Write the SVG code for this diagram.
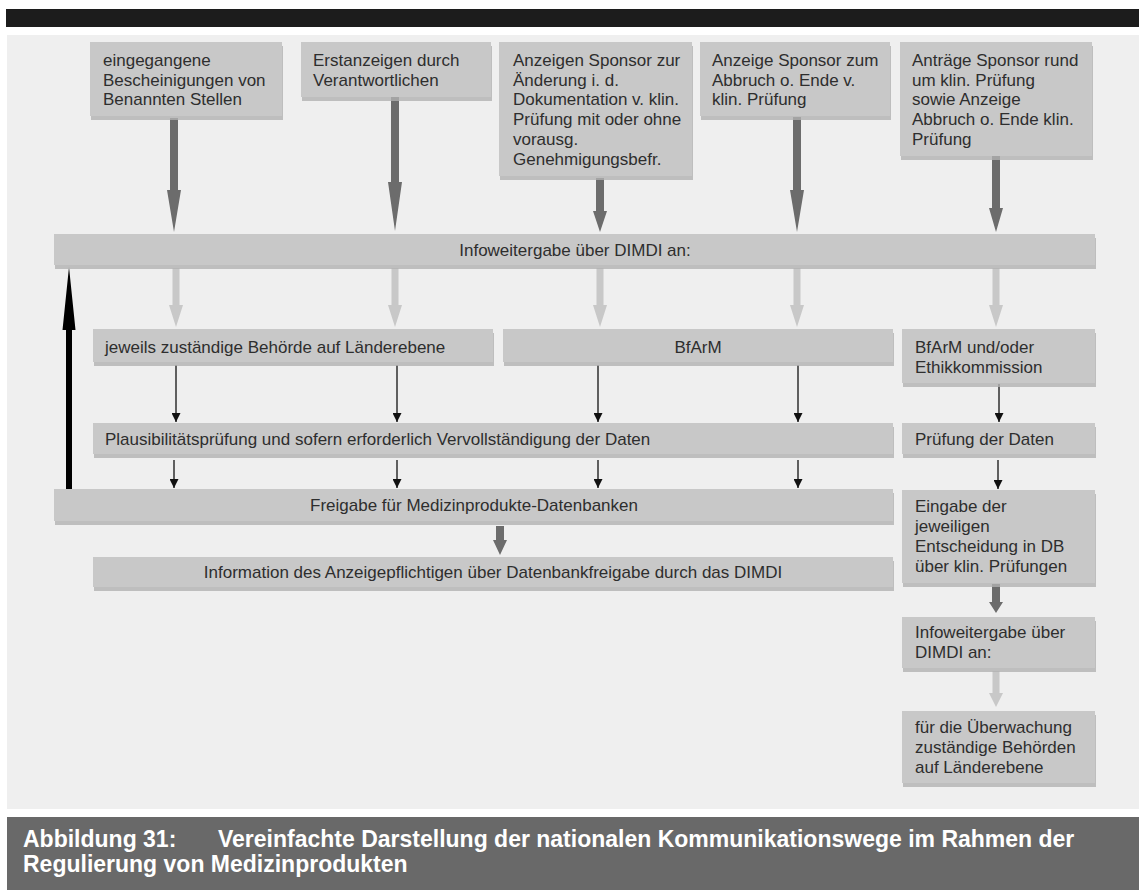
<svg xmlns="http://www.w3.org/2000/svg" xmlns:xlink="http://www.w3.org/1999/xlink" width="1139" height="890" viewBox="0 0 1139 890">
<style>
  .box { fill: #c8c8c8; }
  .shadow { fill: #b2b2b2; opacity: 0.8; }
  .t { font-family: "Liberation Sans", Arial, sans-serif; font-size: 17px; fill: #2e2e2e; }
  .c { text-anchor: middle; }
  .cap { font-family: "Liberation Sans", Arial, sans-serif; font-size: 23px; font-weight: bold; fill: #ffffff; }
  .dark { fill: #6c6c6c; }
  .light { fill: #c8c8c8; }
  .thin { stroke: #111111; stroke-width: 1.3; fill: none; marker-end: url(#tip); }
</style>
<defs>
  <marker id="tip" markerUnits="userSpaceOnUse" markerWidth="9" markerHeight="9" refX="9" refY="4.5" orient="auto">
    <path d="M0,0 L9,4.5 L0,9 z" fill="#111111"/>
  </marker>
  <polygon id="lightArrow" points="-3.5,268 3.5,268 3.5,305 7,305 0,327 -7,305 -3.5,305"/>
</defs>

<rect x="0" y="0" width="1139" height="890" fill="#ffffff"/>
<rect x="6" y="9" width="1133" height="18" fill="#1c1c1c"/>
<rect x="7" y="35" width="1132" height="774" fill="#efefef"/>

<g id="connectors">
  <polygon class="dark" points="170,118 178,118 178,190 181,190 174,232 167,190 170,190"/>
  <polygon class="dark" points="391,97 399,97 399,182 402,182 395,231 388,182 391,182"/>
  <polygon class="dark" points="596,178 604,178 604,211 607,211 600,232 593,211 596,211"/>
  <polygon class="dark" points="793,117 801,117 801,190 804,190 797,232 790,190 793,190"/>
  <polygon class="dark" points="992,156 1000,156 1000,208 1003,208 996,232 989,208 992,208"/>
  <use xlink:href="#lightArrow" class="light" x="176"/>
  <use xlink:href="#lightArrow" class="light" x="395"/>
  <use xlink:href="#lightArrow" class="light" x="600"/>
  <use xlink:href="#lightArrow" class="light" x="797"/>
  <use xlink:href="#lightArrow" class="light" x="996"/>
  <line class="thin" x1="176" y1="365" x2="176" y2="422"/>
  <line class="thin" x1="397" y1="365" x2="397" y2="422"/>
  <line class="thin" x1="598" y1="365" x2="598" y2="422"/>
  <line class="thin" x1="798" y1="365" x2="798" y2="422"/>
  <line class="thin" x1="999" y1="384" x2="999" y2="422"/>
  <line class="thin" x1="174" y1="460" x2="174" y2="488"/>
  <line class="thin" x1="397" y1="460" x2="397" y2="488"/>
  <line class="thin" x1="598" y1="460" x2="598" y2="488"/>
  <line class="thin" x1="798" y1="460" x2="798" y2="488"/>
  <line class="thin" x1="998" y1="460" x2="998" y2="489"/>
  <polygon fill="#000000" points="66,489 72,489 72,330 75.5,330 69,267 62.5,330 66,330"/>
  <polygon class="dark" points="496,526 504,526 504,540 507,540 500,555 493,540 496,540"/>
  <polygon class="dark" points="992,584 1000,584 1000,602 1003,602 996,613 989,602 992,602"/>
  <polygon class="light" points="992.5,671 999.5,671 999.5,693 1003,693 996,707 989,693 992.5,693"/>
</g>

<g id="n-bescheinigungen">
  <rect class="shadow" x="91" y="46" width="192" height="74"/>
  <rect class="box" x="90" y="42" width="192" height="74"/>
  <text class="t" x="103" y="66">eingegangene</text>
  <text class="t" x="103" y="85.7">Bescheinigungen von</text>
  <text class="t" x="103" y="105.4">Benannten Stellen</text>
</g>
<g id="n-erstanzeigen">
  <rect class="shadow" x="302" y="46" width="190" height="55"/>
  <rect class="box" x="301" y="42" width="190" height="55"/>
  <text class="t" x="313" y="66">Erstanzeigen durch</text>
  <text class="t" x="313" y="85.7">Verantwortlichen</text>
</g>
<g id="n-aenderung">
  <rect class="shadow" x="500" y="46" width="193" height="134"/>
  <rect class="box" x="499" y="42" width="193" height="134"/>
  <text class="t" x="513" y="66">Anzeigen Sponsor zur</text>
  <text class="t" x="513" y="85.7">Änderung i. d.</text>
  <text class="t" x="513" y="105.4">Dokumentation v. klin.</text>
  <text class="t" x="513" y="125.1">Prüfung mit oder ohne</text>
  <text class="t" x="513" y="144.8">vorausg.</text>
  <text class="t" x="513" y="164.5">Genehmigungsbefr.</text>
</g>
<g id="n-abbruch">
  <rect class="shadow" x="701" y="46" width="190" height="74"/>
  <rect class="box" x="700" y="42" width="190" height="74"/>
  <text class="t" x="712" y="66">Anzeige Sponsor zum</text>
  <text class="t" x="712" y="85.7">Abbruch o. Ende v.</text>
  <text class="t" x="712" y="105.4">klin. Prüfung</text>
</g>
<g id="n-antraege">
  <rect class="shadow" x="901" y="46" width="192" height="114"/>
  <rect class="box" x="900" y="42" width="192" height="114"/>
  <text class="t" x="912" y="66">Anträge Sponsor rund</text>
  <text class="t" x="912" y="85.7">um klin. Prüfung</text>
  <text class="t" x="912" y="105.4">sowie Anzeige</text>
  <text class="t" x="912" y="125.1">Abbruch o. Ende klin.</text>
  <text class="t" x="912" y="144.8">Prüfung</text>
</g>
<g id="n-infoweitergabe">
  <rect class="shadow" x="55" y="238" width="1041" height="31"/>
  <rect class="box" x="54" y="234" width="1041" height="31"/>
  <text class="t c" x="575" y="256">Infoweitergabe über DIMDI an:</text>
</g>
<g id="n-laender">
  <rect class="shadow" x="94" y="333" width="400" height="33"/>
  <rect class="box" x="93" y="329" width="400" height="33"/>
  <text class="t" x="105" y="353">jeweils zuständige Behörde auf Länderebene</text>
</g>
<g id="n-bfarm">
  <rect class="shadow" x="504" y="333" width="390" height="33"/>
  <rect class="box" x="503" y="329" width="390" height="33"/>
  <text class="t c" x="698" y="353">BfArM</text>
</g>
<g id="n-bfarm-ethik">
  <rect class="shadow" x="903" y="333" width="193" height="54"/>
  <rect class="box" x="902" y="329" width="193" height="54"/>
  <text class="t" x="915" y="353">BfArM und/oder</text>
  <text class="t" x="915" y="373">Ethikkommission</text>
</g>
<g id="n-plausibilitaet">
  <rect class="shadow" x="94" y="427" width="800" height="31"/>
  <rect class="box" x="93" y="423" width="800" height="31"/>
  <text class="t" x="105" y="445">Plausibilitätsprüfung und sofern erforderlich Vervollständigung der Daten</text>
</g>
<g id="n-pruefung">
  <rect class="shadow" x="903" y="427" width="193" height="31"/>
  <rect class="box" x="902" y="423" width="193" height="31"/>
  <text class="t" x="915" y="445">Prüfung der Daten</text>
</g>
<g id="n-freigabe">
  <rect class="shadow" x="55" y="493" width="839" height="32"/>
  <rect class="box" x="54" y="489" width="839" height="32"/>
  <text class="t c" x="474" y="511">Freigabe für Medizinprodukte-Datenbanken</text>
</g>
<g id="n-information">
  <rect class="shadow" x="94" y="561" width="800" height="30"/>
  <rect class="box" x="93" y="557" width="800" height="30"/>
  <text class="t c" x="493" y="578">Information des Anzeigepflichtigen über Datenbankfreigabe durch das DIMDI</text>
</g>
<g id="n-eingabe">
  <rect class="shadow" x="903" y="494" width="193" height="93"/>
  <rect class="box" x="902" y="490" width="193" height="93"/>
  <text class="t" x="915" y="512">Eingabe der</text>
  <text class="t" x="915" y="532">jeweiligen</text>
  <text class="t" x="915" y="552">Entscheidung in DB</text>
  <text class="t" x="915" y="572">über klin. Prüfungen</text>
</g>
<g id="n-infoweitergabe-2">
  <rect class="shadow" x="903" y="621" width="193" height="51"/>
  <rect class="box" x="902" y="617" width="193" height="51"/>
  <text class="t" x="915" y="638">Infoweitergabe über</text>
  <text class="t" x="915" y="658">DIMDI an:</text>
</g>
<g id="n-ueberwachung">
  <rect class="shadow" x="903" y="715" width="193" height="72"/>
  <rect class="box" x="902" y="711" width="193" height="72"/>
  <text class="t" x="915" y="733">für die Überwachung</text>
  <text class="t" x="915" y="753">zuständige Behörden</text>
  <text class="t" x="915" y="773">auf Länderebene</text>
</g>

<g id="caption">
  <rect x="7" y="817" width="1132" height="73" fill="#696969"/>
  <text class="cap" x="23" y="847">Abbildung 31:</text>
  <text class="cap" x="218" y="847">Vereinfachte Darstellung der nationalen Kommunikationswege im Rahmen der</text>
  <text class="cap" x="23" y="872">Regulierung von Medizinprodukten</text>
</g>
</svg>
